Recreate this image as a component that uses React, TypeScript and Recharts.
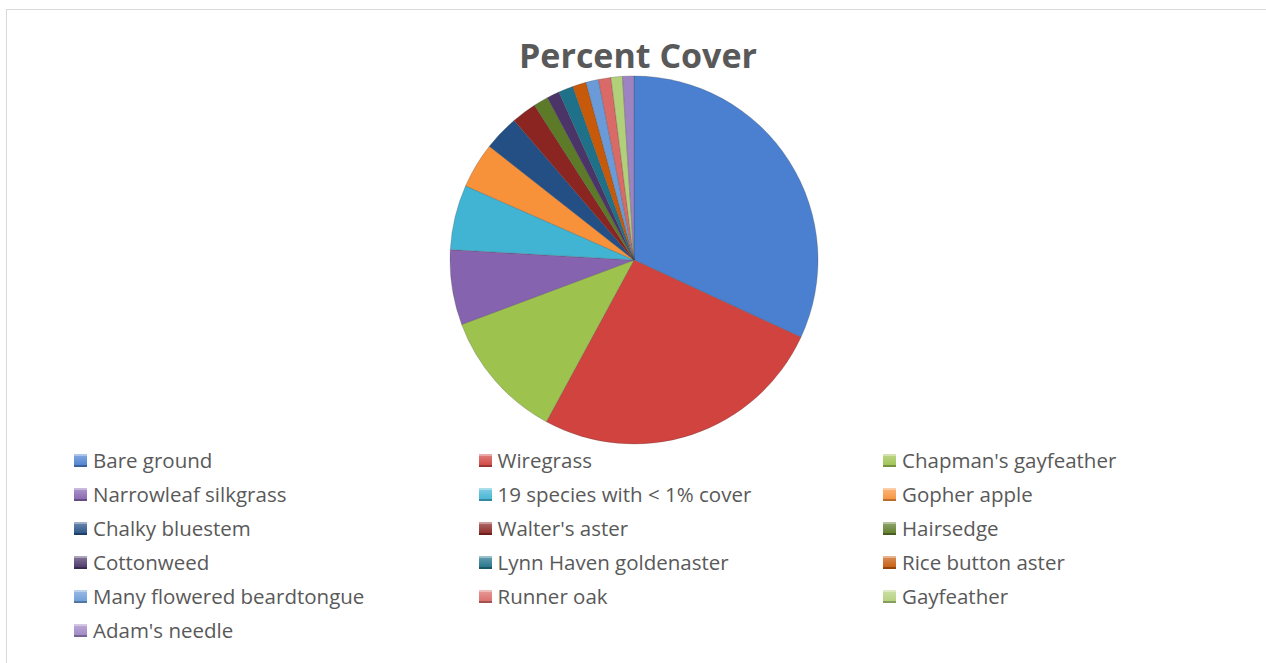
import { PieChart, Pie, Cell, Legend } from "recharts";

const species = [
  "Bare ground",
  "Wiregrass",
  "Chapman's gayfeather",
  "Narrowleaf silkgrass",
  "19 species with < 1% cover",
  "Gopher apple",
  "Chalky bluestem",
  "Walter's aster",
  "Hairsedge",
  "Cottonweed",
  "Lynn Haven goldenaster",
  "Rice button aster",
  "Many flowered beardtongue",
  "Runner oak",
  "Gayfeather",
  "Adam's needle",
];

const cover = [31.9, 26.0, 11.4, 6.6, 5.7, 4.0, 3.1, 2.2, 1.3, 1.1, 1.3, 1.2, 1.1, 1.1, 1.0, 1.0];

const colors = [
  "#4A80CF",
  "#D0433F",
  "#9DC24E",
  "#8563AE",
  "#41B4D3",
  "#F7913A",
  "#244F85",
  "#8A2522",
  "#5C7A28",
  "#4A3468",
  "#1E7189",
  "#C65A0A",
  "#6A9BD8",
  "#D96A67",
  "#B2D07A",
  "#9D83C2",
];

const data = species.map((name, i) => ({ name, value: cover[i] }));

const FONT = "'Open Sans', sans-serif";

// 3 columns, row-major like Excel's bottom legend
const renderLegend = () => (
  <div style={{ position: "relative", width: 1250, height: 210 }}>
    {species.map((name, i) => {
      const col = i % 3;
      const row = Math.floor(i / 3);
      return (
        <div
          key={name}
          style={{
            position: "absolute",
            left: 67 + col * 404.5,
            top: row * 34,
            display: "flex",
            alignItems: "center",
            height: 24,
            fontFamily: FONT,
            fontSize: 20.5,
            color: "#595959",
            whiteSpace: "nowrap",
          }}
        >
          <span
            style={{
              display: "inline-block",
              width: 13,
              height: 13,
              marginRight: 6,
              background: `linear-gradient(to bottom, ${colors[i]}aa, ${colors[i]})`,
              boxShadow: `inset 0 -2px 0 rgba(0,0,0,0.25), inset 0 2px 0 rgba(255,255,255,0.35)`,
            }}
          />
          {name}
        </div>
      );
    })}
  </div>
);

export default function App() {
  return (
    <div
      style={{
        position: "absolute",
        left: 6,
        top: 9,
        width: 1259,
        height: 653,
        borderLeft: "1px solid #d9d9d9",
        borderTop: "1px solid #d9d9d9",
        background: "#fff",
      }}
    >
      <div
        style={{
          position: "absolute",
          left: 0,
          width: 1262,
          top: 22,
          textAlign: "center",
          fontFamily: FONT,
          fontWeight: 700,
          fontSize: 34,
          color: "#595959",
        }}
      >
        Percent Cover
      </div>
      <PieChart width={1259} height={653}>
        <Pie
          data={data}
          dataKey="value"
          nameKey="name"
          cx={622}
          cy={245}
          outerRadius={184}
          startAngle={90}
          endAngle={-270}
          stroke="rgba(60,60,60,0.35)"
          strokeWidth={0.7}
          isAnimationActive={false}
        >
          {data.map((d, i) => (
            <Cell key={d.name} fill={colors[i]} />
          ))}
        </Pie>
        <Legend
          content={renderLegend}
          wrapperStyle={{ position: "absolute", left: 0, top: 438, width: 1250 }}
        />
      </PieChart>
    </div>
  );
}
